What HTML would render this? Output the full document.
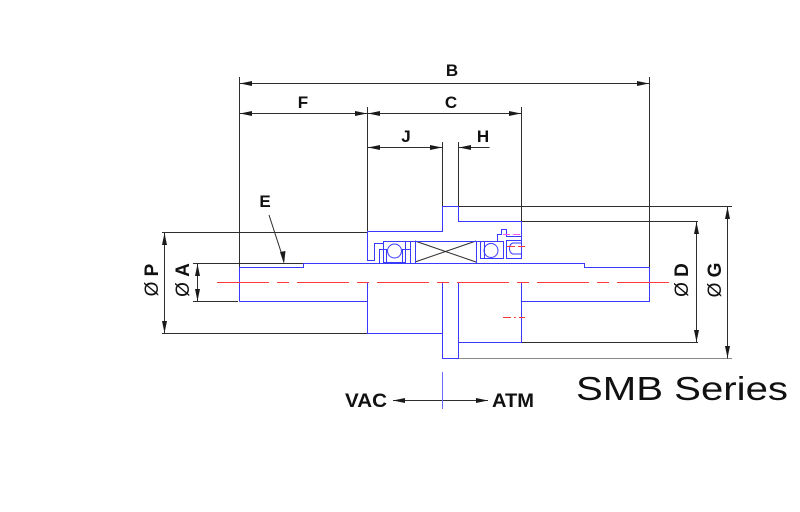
<!DOCTYPE html>
<html><head><meta charset="utf-8"><style>
html,body{margin:0;padding:0;background:#fff;}
svg{display:block;}
text{font-family:"Liberation Sans",Arial,sans-serif;fill:#111;}
</style></head><body>
<svg width="800" height="512" viewBox="0 0 800 512" xmlns="http://www.w3.org/2000/svg">
<rect width="800" height="512" fill="#fff"/>

<!-- extension lines (black) -->
<g stroke="#2e2e2e" stroke-width="1" fill="none">
  <line x1="239.5" y1="77" x2="239.5" y2="267"/>
  <line x1="649.5" y1="77" x2="649.5" y2="267"/>
  <line x1="367.5" y1="107" x2="367.5" y2="231"/>
  <line x1="521.5" y1="107" x2="521.5" y2="221"/>
  <line x1="442.5" y1="142" x2="442.5" y2="206"/>
  <line x1="458.5" y1="142" x2="458.5" y2="206"/>
  <!-- dimension lines -->
  <line x1="239.5" y1="83.5" x2="649.5" y2="83.5"/>
  <line x1="239.5" y1="113.5" x2="521.5" y2="113.5"/>
  <line x1="367.5" y1="147.5" x2="442.5" y2="147.5"/>
  <line x1="458.5" y1="147.5" x2="489.5" y2="147.5"/>
  <!-- P, A -->
  <line x1="162" y1="232.5" x2="367" y2="232.5"/>
  <line x1="162" y1="333.5" x2="367" y2="333.5"/>
  <line x1="164.5" y1="232.5" x2="164.5" y2="333.5"/>
  <line x1="193" y1="263.5" x2="303" y2="263.5"/>
  <line x1="193" y1="301.5" x2="238" y2="301.5"/>
  <line x1="197.5" y1="263.5" x2="197.5" y2="301.5"/>
  <!-- D, G -->
  <line x1="521" y1="221.5" x2="698" y2="221.5"/>
  <line x1="521" y1="342.5" x2="698" y2="342.5"/>
  <line x1="696.5" y1="221.5" x2="696.5" y2="342.5"/>
  <line x1="458" y1="206.5" x2="732" y2="206.5"/>
  <line x1="458" y1="358.5" x2="732" y2="358.5" stroke="#8a8a8a"/>
  <line x1="727.5" y1="206.5" x2="727.5" y2="358.5"/>
  <!-- E leader -->
  <line x1="269" y1="215" x2="283" y2="258"/>
  <!-- VAC ATM -->
  <line x1="393" y1="400.5" x2="488" y2="400.5"/>
  <!-- X in box -->
  <line x1="415" y1="241" x2="476" y2="262"/>
  <line x1="415" y1="262" x2="476" y2="241"/>
</g>

<!-- arrowheads -->
<g fill="#1a1a1a">
  <!-- B -->
  <polygon points="240,83.5 252,81 252,86"/>
  <polygon points="649,83.5 637,81 637,86"/>
  <!-- F -->
  <polygon points="240,113.5 252,111 252,116"/>
  <polygon points="367,113.5 355,111 355,116"/>
  <!-- C -->
  <polygon points="368,113.5 380,111 380,116"/>
  <polygon points="521,113.5 509,111 509,116"/>
  <!-- J -->
  <polygon points="368,147.5 380,145 380,150"/>
  <polygon points="442,147.5 430,145 430,150"/>
  <!-- H -->
  <polygon points="459,147.5 471,145 471,150"/>
  <!-- P -->
  <polygon points="164.5,233 162,245 167,245"/>
  <polygon points="164.5,333 162,321 167,321"/>
  <!-- A -->
  <polygon points="197.5,264 195,276 200,276"/>
  <polygon points="197.5,301 195,289 200,289"/>
  <!-- D -->
  <polygon points="696.5,222 694,234 699,234"/>
  <polygon points="696.5,342 694,330 699,330"/>
  <!-- G -->
  <polygon points="727.5,207 725,219 730,219"/>
  <polygon points="727.5,358 725,346 730,346"/>
  <!-- E -->
  <polygon points="284,264 280,252 285.5,251"/>
  <!-- VAC ATM -->
  <polygon points="393,400.5 405,398 405,403"/>
  <polygon points="488,400.5 476,398 476,403"/>
</g>

<!-- blue geometry -->
<g stroke="#3a3aff" stroke-width="1" fill="none">
  <!-- shaft -->
  <polyline points="239.5,301.5 239.5,267.5 303.5,267.5 303.5,263.5 584.5,263.5 584.5,267.5 649.5,267.5 649.5,301.5 521.5,301.5"/>
  <line x1="239.5" y1="301.5" x2="367.5" y2="301.5"/>
  <!-- hub upper -->
  <polyline points="367.5,231.5 442.5,231.5 442.5,206.5 458.5,206.5 458.5,221.5 521.5,221.5 521.5,258.5"/>
  <polyline points="367.5,231.5 367.5,260.5 374.5,260.5 374.5,243.5 383.5,243.5"/>
  <!-- left bearing -->
  <rect x="383.5" y="241.5" width="22" height="21"/>
  <rect x="379.5" y="249.5" width="7" height="14"/>
  <rect x="402.5" y="249.5" width="8" height="14"/>
  <circle cx="394.5" cy="251" r="7"/>
  <line x1="383" y1="241.5" x2="480" y2="241.5"/>
  <line x1="410.5" y1="241.5" x2="410.5" y2="263"/>
  <line x1="415.5" y1="241.5" x2="415.5" y2="263"/>
  <line x1="476.5" y1="241.5" x2="476.5" y2="263"/>
  <!-- right bearing -->
  <rect x="480.5" y="241.5" width="23" height="17"/>
  <line x1="484.5" y1="241.5" x2="484.5" y2="258"/>
  <circle cx="491" cy="250.5" r="7"/>
  <polyline points="497.5,241.5 497.5,234.5 501.5,234.5 501.5,229.5 506.5,229.5 506.5,236.5 521.5,236.5"/>
  <rect x="506.5" y="240.5" width="15" height="18"/>
  <path d="M512.5,243 A5,6 0 0 0 512.5,254"/>
  <line x1="512.5" y1="243" x2="521" y2="243"/>
  <line x1="512.5" y1="254" x2="521" y2="254"/>
  <!-- hub lower -->
  <polyline points="367.5,282 367.5,333.5 442.5,333.5"/>
  <polyline points="442.5,282 442.5,358.5 458.5,358.5 458.5,282"/>
  <polyline points="458.5,342.5 521.5,342.5 521.5,282"/>
  <!-- VAC/ATM divider -->
  <line x1="442.5" y1="372" x2="442.5" y2="409" stroke="#6a6aff"/>
</g>

<!-- centerlines -->
<g fill="none" stroke-width="1">
  <line x1="217" y1="282.5" x2="670" y2="282.5" stroke="#ff3a3a" stroke-dasharray="52 8 12 8"/>
  <line x1="507" y1="246.5" x2="525" y2="246.5" stroke="#ff3a3a" stroke-dasharray="8 3"/>
  <line x1="503" y1="234.5" x2="521" y2="234.5" stroke="#ff55ee" stroke-dasharray="7 3"/>
  <line x1="503" y1="317.5" x2="525" y2="317.5" stroke="#ff3a3a" stroke-dasharray="8 3 2 3"/>
</g>

<!-- labels -->
<g font-weight="bold" font-size="17" text-anchor="middle">
  <text x="452" y="76">B</text>
  <text x="303" y="108">F</text>
  <text x="451" y="108">C</text>
  <text x="406" y="142">J</text>
  <text x="483" y="142">H</text>
  <text x="265" y="207">E</text>
</g>
<g font-size="19" text-anchor="middle">
  <text transform="translate(158,280) rotate(-90)"><tspan font-weight="normal">Ø</tspan> <tspan font-weight="bold">P</tspan></text>
  <text transform="translate(189,280) rotate(-90)"><tspan font-weight="normal">Ø</tspan> <tspan font-weight="bold">A</tspan></text>
  <text transform="translate(688,280) rotate(-90)"><tspan font-weight="normal">Ø</tspan> <tspan font-weight="bold">D</tspan></text>
  <text transform="translate(721,280) rotate(-90)"><tspan font-weight="normal">Ø</tspan> <tspan font-weight="bold">G</tspan></text>
</g>
<text x="345" y="407" font-size="19" font-weight="bold" textLength="42" lengthAdjust="spacingAndGlyphs">VAC</text>
<text x="492" y="407" font-size="19" font-weight="bold" textLength="42" lengthAdjust="spacingAndGlyphs">ATM</text>
<text x="576" y="400" font-size="33" textLength="212" lengthAdjust="spacingAndGlyphs">SMB Series</text>
</svg>
</body></html>
